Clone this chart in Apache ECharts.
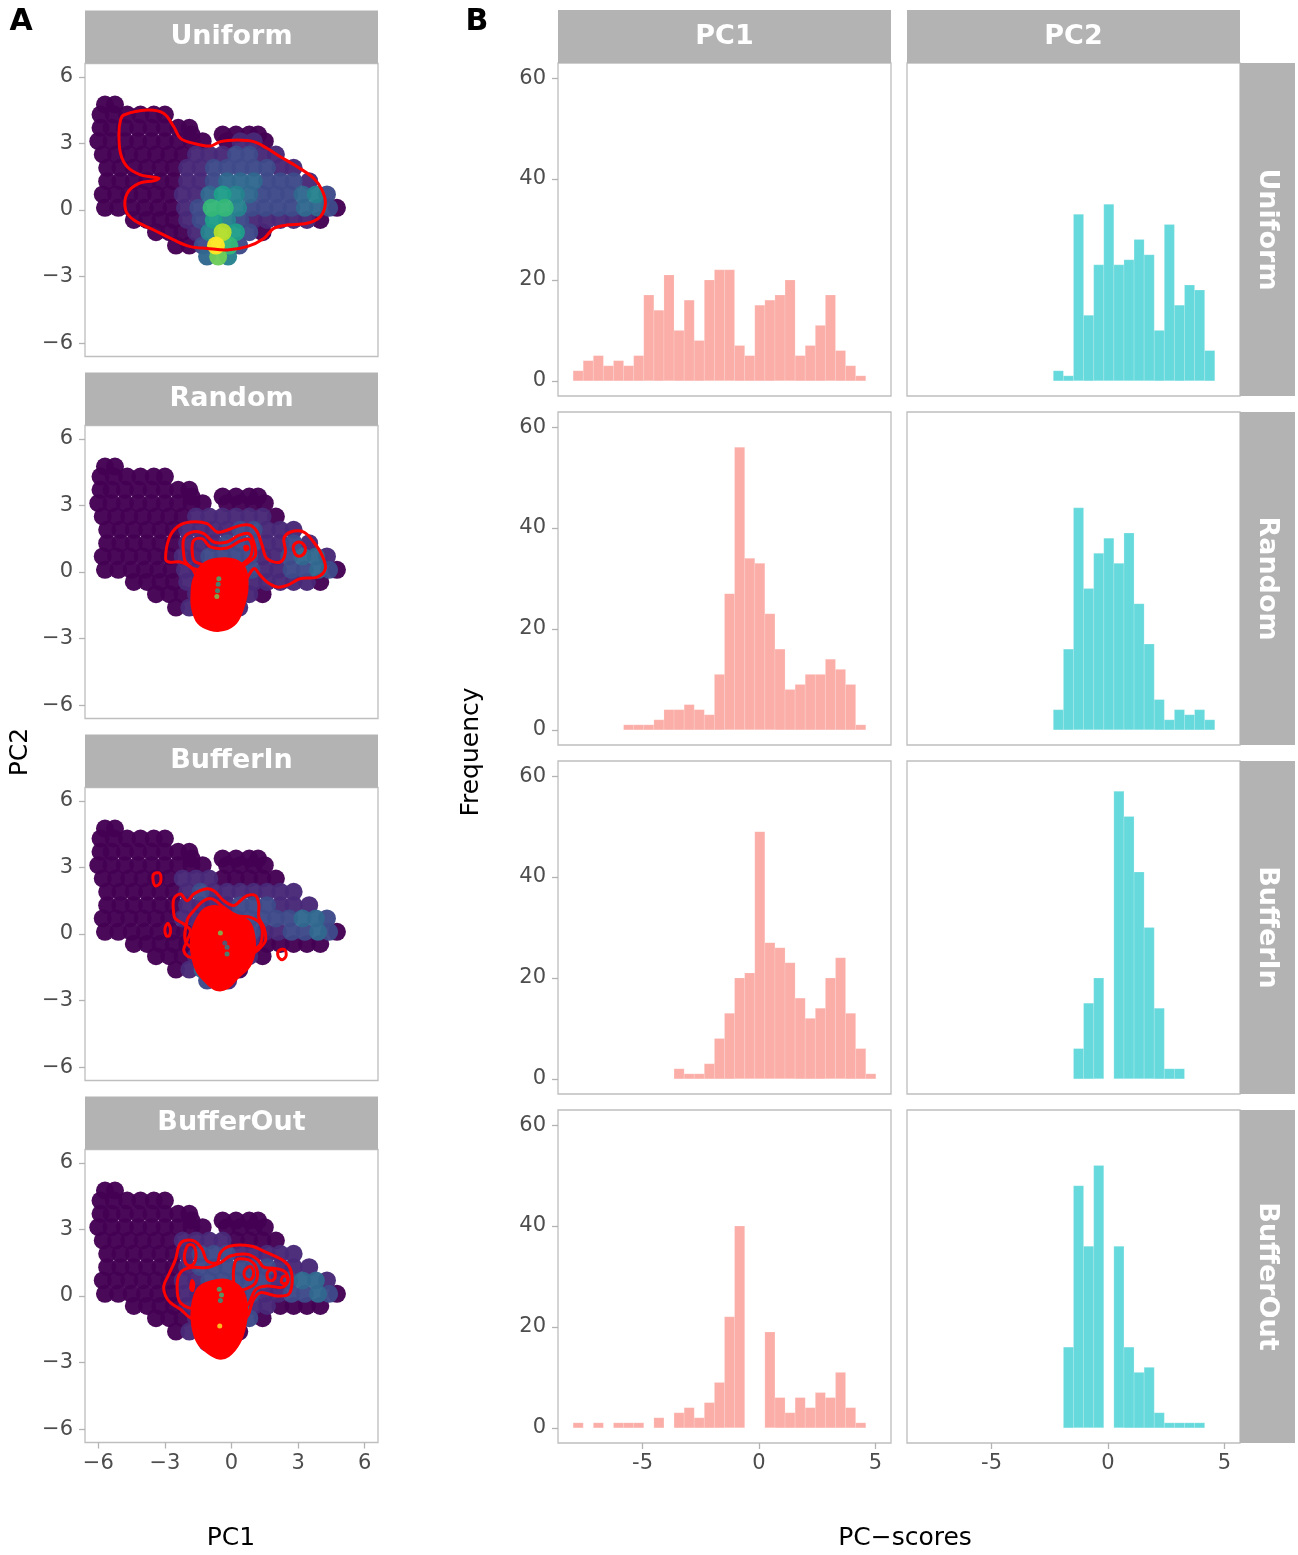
<!DOCTYPE html>
<html>
<head>
<meta charset="utf-8">
<script src="https://cdn.jsdelivr.net/npm/echarts@6/dist/echarts.min.js"></script>
<style>
  html, body { margin: 0; padding: 0; background: #fff; }
  #chart { width: 1298px; height: 1555px; }
</style>
</head>
<body>
<div id="chart"></div>
<script>
// ---------- histogram data (30 bins shared by all facets) ----------
const binEdges = [-7.98, -7.547, -7.113, -6.68, -6.247, -5.813, -5.38, -4.947, -4.513, -4.08,
  -3.647, -3.213, -2.78, -2.347, -1.913, -1.48, -1.047, -0.613, -0.18, 0.253,
  0.687, 1.12, 1.553, 1.987, 2.42, 2.853, 3.287, 3.72, 4.153, 4.587, 5.02];

const designs = ['Uniform', 'Random', 'BufferIn', 'BufferOut'];
const pcs = ['PC1', 'PC2'];

// counts per bin; null = bar above 60, dropped by the y limit
const pc1Uniform = [2, 4, 5, 3, 4, 3, 5, 17, 14, 21, 10, 16, 8, 20, 22, 22, 7, 5, 15, 16, 17, 20, 5, 7, 11, 17, 6, 3, 1, 0];
const pc2Uniform = [0, 0, 0, 0, 0, 0, 0, 0, 0, 0, 0, 0, 0, 2, 1, 33, 13, 23, 35, 23, 24, 28, 25, 10, 31, 15, 19, 18, 6, 0];
const pc1Random = [0, 0, 0, 0, 0, 1, 1, 1, 2, 4, 4, 5, 4, 3, 11, 27, 56, 34, 33, 23, 16, 8, 9, 11, 11, 14, 12, 9, 1, 0];
const pc2Random = [0, 0, 0, 0, 0, 0, 0, 0, 0, 0, 0, 0, 0, 4, 16, 44, 28, 35, 38, 33, 39, 25, 17, 6, 2, 4, 3, 4, 2, 0];
const pc1BufferIn = [0, 0, 0, 0, 0, 0, 0, 0, 0, 0, 2, 1, 1, 3, 8, 13, 20, 21, 49, 27, 26, 23, 16, 12, 14, 20, 24, 13, 6, 1];
const pc2BufferIn = [0, 0, 0, 0, 0, 0, 0, 0, 0, 0, 0, 0, 0, 0, 0, 6, 15, 20, null, 57, 52, 41, 30, 14, 2, 2, 0, 0, 0, 0];
const pc1BufferOut = [1, 0, 1, 0, 1, 1, 1, 0, 2, 0, 3, 4, 2, 5, 9, 22, 40, null, null, 19, 6, 3, 6, 4, 7, 6, 11, 4, 1, 0];
const pc2BufferOut = [0, 0, 0, 0, 0, 0, 0, 0, 0, 0, 0, 0, 0, 0, 16, 48, 36, 52, null, 36, 16, 11, 12, 3, 1, 1, 1, 1, 0, 0];

const histTicksX = [-5, 0, 5];
const histTicksY = [0, 20, 40, 60];
const pcaTicks = [-6, -3, 0, 3, 6];

// ---------- PCA cloud (panel A): rows of [PC2, [PC1 ...]] ----------
const cloudRows = [
  [4.75, [-5.7, -5.25]],
  [4.3, [-5.9, -5.3, -4.7, -4.1, -3.5, -3.0]],
  [3.7, [-5.9, -5.4, -4.8, -4.2, -3.6, -3.0, -2.4, -1.9]],
  [3.4, [-1.8, -0.4, 0.2, 0.8, 1.2]],
  [3.1, [-6.0, -5.4, -4.8, -4.2, -3.6, -3.0, -2.4, -1.8, -1.3, -0.2, 0.4, 1.0, 1.5]],
  [2.5, [-5.8, -5.2, -4.6, -4.0, -3.4, -2.8, -2.2, -1.6, -1.0, -0.4, 0.2, 0.8, 1.4, 2.0]],
  [1.9, [-5.6, -5.0, -4.4, -3.8, -3.2, -2.6, -2.0, -1.4, -0.8, -0.2, 0.4, 1.0, 1.6, 2.2, 2.8]],
  [1.3, [-5.6, -5.0, -4.4, -3.8, -3.2, -2.6, -2.0, -1.4, -0.8, -0.2, 0.4, 1.0, 1.6, 2.2, 2.8, 3.5]],
  [0.7, [-5.8, -5.2, -4.6, -4.0, -3.4, -2.8, -2.2, -1.6, -1.0, -0.4, 0.2, 0.8, 1.4, 2.0, 2.6, 3.2, 3.8, 4.3]],
  [0.1, [-5.7, -5.1, -4.5, -3.9, -3.3, -2.7, -2.1, -1.5, -0.9, -0.3, 0.3, 0.9, 1.5, 2.1, 2.7, 3.3, 3.9, 4.4, 4.75]],
  [-0.45, [-4.4, -3.8, -3.2, -2.6, -2.0, -1.4, -0.8, -0.2, 0.4, 1.0, 1.6, 2.2, 2.8, 3.4, 4.0]],
  [-1.0, [-3.4, -2.8, -2.2, -1.6, -1.0, -0.4, 0.2, 0.8, 1.4]],
  [-1.6, [-2.5, -1.9, -1.3, -0.7, -0.1, 0.35]],
  [-2.1, [-1.1, -0.6, -0.15]]
];

// density level (0-9) of each cloud point, one string per row
const densityUniform = ['00', '000000', '00000000', '00000', '0000000000110', '00000001112211',
  '000000112222211', '0000001123332221', '000000113543222342', '0000001266422223320',
  '000012542111110', '000148520', '002962', '374'];
const densityRandom = ['00', '000000', '00000000', '00000', '0000000000000', '00000001111110',
  '000000111122111', '0000001112221121', '000000112222112331', '0000001123321122320',
  '000011232111110', '000123210', '012221', '121'];
const densityBufferIn = ['00', '000000', '00000000', '00000', '0000000000000', '00000011100000',
  '000000121111111', '0000001111222111', '000000111222222332', '0000000112221122320',
  '000001122100000', '000122210', '013210', '221'];
const densityBufferOut = ['00', '000000', '00000000', '00000', '0000000000000', '00000011110000',
  '000000122211111', '0000001222222111', '000000112222212331', '0000001122221122320',
  '000011223110000', '000122320', '012210', '121'];

// red density contours of the sampled points; fill = solid (dense nested lines)
const contoursUniform = [
  { fill: false, pts: [[-4.85, 4.28], [-3.8, 4.5], [-3.05, 4.35], [-2.6, 3.75], [-2.3, 3.23], [-1.7, 3.0], [-0.95, 2.88], [-0.5, 3.08], [0.26, 3.15], [1.0, 3.08], [1.6, 2.78], [2.2, 2.4], [2.96, 1.95], [3.7, 1.43], [4.08, 0.9], [4.23, 0.3], [4.0, -0.3], [3.4, -0.6], [2.5, -0.68], [1.9, -0.83], [1.46, -1.28], [0.7, -1.65], [-0.2, -1.8], [-1.1, -1.73], [-1.85, -1.65], [-2.6, -1.35], [-3.5, -0.9], [-4.4, -0.45], [-4.77, 0], [-4.7, 0.75], [-4.17, 1.2], [-3.5, 1.32], [-3.27, 1.43], [-3.65, 1.5], [-4.1, 1.58], [-4.7, 1.95], [-5.0, 2.55], [-5.07, 3.45], [-5.0, 4.05]] }
];
const contoursRandom = [
  { fill: false, pts: [[-2.97, 0.6], [-2.82, 1.5], [-2.45, 2.03], [-1.85, 2.25], [-1.1, 2.18], [-0.65, 1.8], [-0.2, 1.88], [0.4, 2.1], [0.86, 2.1], [1.16, 1.8], [1.38, 1.2], [1.6, 0.6], [2.2, 0.45], [2.43, 0.9], [2.36, 1.5], [2.66, 1.8], [3.26, 1.8], [3.7, 1.35], [4.08, 0.75], [4.23, 0.15], [3.86, -0.23], [3.1, -0.3], [2.5, -0.6], [2.06, -0.68], [1.6, -0.45], [1.3, -0.15], [1.0, 0.15], [0.4, -0.75], [-0.8, -1.65], [-1.77, 0.15], [-2.3, 0.45], [-2.82, 0.45]] },
  { fill: false, pts: [[-2.15, 0.75], [-2.15, 1.5], [-1.77, 1.8], [-1.25, 1.73], [-0.8, 1.35], [-0.2, 1.35], [0.33, 1.65], [0.78, 1.73], [1.0, 1.35], [1.08, 0.75], [0.78, 0.45], [0, 0], [-1.7, 0.15], [-2.07, 0.45]] },
  { fill: false, pts: [[-1.77, 0.9], [-1.7, 1.43], [-1.32, 1.5], [-0.95, 1.13], [-0.2, 1.08], [0.4, 1.4], [0.78, 1.47], [0.93, 1.05], [0.78, 0.6], [0, 0.15], [-1.62, 0.45]] },
  { fill: true, pts: [[0.58, 1.15], [0.72, 1.17], [0.76, 1.02], [0.62, 0.98]] },
  { fill: false, pts: [[2.8, 1.2], [3.03, 1.35], [3.26, 1.23], [3.33, 0.98], [3.18, 0.75], [2.93, 0.75], [2.8, 0.98]] },
  { fill: true, pts: [[-1.7, -0.3], [-1.3, 0.35], [-0.65, 0.6], [0.15, 0.55], [0.62, 0.15], [0.72, -0.75], [0.52, -1.65], [0.2, -2.3], [-0.35, -2.62], [-0.97, -2.6], [-1.52, -2.28], [-1.77, -1.65], [-1.8, -0.9]] }
];
const contoursBufferIn = [
  { fill: false, pts: [[-3.5, 2.7], [-3.23, 2.73], [-3.2, 2.33], [-3.41, 2.16], [-3.53, 2.4]] },
  { fill: false, pts: [[-2.87, 0.48], [-2.75, 0.23], [-2.8, -0.08], [-2.94, -0.08], [-3.0, 0.23]] },
  { fill: false, pts: [[2.13, -0.75], [2.39, -0.7], [2.46, -0.98], [2.28, -1.16], [2.1, -1.0]] },
  { fill: false, pts: [[-2.6, 0.9], [-2.6, 1.58], [-2.3, 1.8], [-2.0, 1.5], [-1.7, 1.8], [-1.17, 2.03], [-0.8, 1.95], [-0.35, 1.5], [0.1, 1.28], [0.4, 1.5], [0.7, 1.73], [1.08, 1.73], [1.23, 1.35], [1.23, 0.75], [1.46, 0.3], [1.53, -0.3], [1.16, -0.75], [0.86, -0.9], [-1.85, -1.05], [-2.15, -0.75], [-2.0, -0.3], [-1.85, 0.15], [-2.15, 0.45], [-2.52, 0.68]] },
  { fill: false, pts: [[-2.0, 0.6], [-1.7, 1.05], [-1.25, 1.5], [-0.87, 1.58], [-0.35, 1.2], [0.26, 0.83], [0.86, 0.75], [1.3, 0.45], [1.38, -0.15], [1.16, -0.6], [-0.5, -1.05], [-2.0, -0.45]] },
  { fill: true, pts: [[-1.8, 0], [-1.65, 0.5], [-1.25, 1.1], [-0.65, 1.25], [0.1, 0.88], [0.72, 0.62], [0.98, 0.15], [1.05, -0.75], [0.82, -1.45], [0.28, -1.98], [-0.2, -2.45], [-0.67, -2.52], [-1.13, -2.2], [-1.58, -1.65], [-1.82, -0.75]] }
];
const contoursBufferOut = [
  { fill: false, pts: [[-2.97, 0], [-3.05, 0.45], [-2.82, 0.98], [-2.52, 1.65], [-2.37, 2.25], [-2.15, 2.48], [-1.7, 2.48], [-1.32, 2.1], [-1.1, 1.58], [-0.65, 1.5], [-0.5, 1.95], [-0.05, 2.25], [0.86, 2.25], [1.6, 1.95], [2.36, 1.58], [2.66, 1.2], [2.73, 0.6], [2.58, 0.08], [2.06, 0], [1.3, 0.15], [1.0, -0.15], [0.56, -1.05], [-1.7, -1.05], [-2.3, -0.6], [-2.75, -0.3]] },
  { fill: false, pts: [[-2.3, -0.3], [-2.45, 0.45], [-2.3, 1.05], [-1.85, 1.28], [-1.1, 1.28], [-0.5, 1.5], [-0.05, 1.8], [0.7, 1.88], [1.16, 1.65], [1.45, 1.3], [1.9, 1.25], [2.4, 1.1], [2.55, 0.7], [2.3, 0.4], [1.6, 0.45], [1.1, 0.3], [0.6, -0.5], [-1.5, -0.6]] },
  { fill: false, pts: [[0.18, 1.58], [0.7, 1.65], [1.08, 1.35], [1.16, 0.83], [0.93, 0.45], [0.2, 0.3]] },
  { fill: false, pts: [[0.63, 1.2], [0.86, 1.32], [1.0, 1.05], [0.88, 0.75], [0.66, 0.78], [0.56, 0.98]] },
  { fill: false, pts: [[1.6, 0.95], [1.7, 1.15], [1.9, 1.15], [1.98, 0.93], [1.88, 0.72], [1.68, 0.72]] },
  { fill: false, pts: [[2.25, 0.75], [2.35, 0.9], [2.5, 0.85], [2.53, 0.65], [2.4, 0.55], [2.27, 0.6]] },
  { fill: false, pts: [[-1.83, 0.5], [-1.77, 0.7], [-1.7, 0.5], [-1.75, 0.25], [-1.82, 0.3]] },
  { fill: false, pts: [[-2.1, 1.95], [-1.95, 2.3], [-1.7, 2.25], [-1.6, 1.8], [-1.75, 1.4], [-2.0, 1.4], [-2.12, 1.65]] },
  { fill: true, pts: [[-1.78, -0.45], [-1.52, 0.33], [-0.95, 0.65], [-0.2, 0.72], [0.45, 0.32], [0.7, -0.45], [0.62, -1.35], [0.36, -2.12], [-0.12, -2.7], [-0.57, -2.82], [-1.05, -2.58], [-1.52, -2.12], [-1.77, -1.35]] }
];

// density colours showing through the solid contour cores: [PC1, PC2, level]
const specksRandom = [[-0.57, -0.3, 6], [-0.6, -0.55, 5], [-0.63, -0.85, 5], [-0.66, -1.1, 7]];
const specksBufferIn = [[-0.5, 0.05, 7], [-0.3, -0.4, 3], [-0.2, -0.6, 4], [-0.2, -0.9, 5]];
const specksBufferOut = [[-0.55, 0.3, 6], [-0.45, 0.05, 6], [-0.5, -0.2, 5], [-0.53, -1.35, 9]];

// ---------- styling ----------
const FONT = 'DejaVu Sans';
const viridis = ['#440154', '#482878', '#3E4A89', '#31688E', '#26828E', '#1F9E89', '#35B779', '#6DCD59', '#B4DE2C', '#FDE725'];
const stripGrey = '#B3B3B3';
const borderGrey = '#BEBEBE';
const tickGrey = '#B3B3B3';
const labelGrey = '#4D4D4D';
const pc1Fill = 'rgba(248,118,109,0.6)';
const pc2Fill = 'rgba(0,191,196,0.6)';

const histCounts = [
  [pc1Uniform, pc2Uniform],
  [pc1Random, pc2Random],
  [pc1BufferIn, pc2BufferIn],
  [pc1BufferOut, pc2BufferOut]
];
const densities = [densityUniform, densityRandom, densityBufferIn, densityBufferOut];
const contours = [contoursUniform, contoursRandom, contoursBufferIn, contoursBufferOut];
const specks = [[], specksRandom, specksBufferIn, specksBufferOut];

// layout
const aLeft = 85, aWidth = 293, aHeight = 293, aTops = [63.5, 425.5, 787.5, 1149.5];
const bLefts = [558, 907], bWidth = 333, bHeight = 333, bTops = [63, 412, 761, 1110];
const stripH = 53, sideStripW = 55;

const minus = v => (v < 0 ? '\u2212' + Math.abs(v) : String(v));

const grid = [], xAxis = [], yAxis = [], series = [], graphic = [];

function axisCommon(show, ticks, min, max, fmt, margin) {
  return {
    type: 'value', min, max,
    axisLine: { show: false, onZero: false },
    splitLine: { show: false },
    axisTick: { show, customValues: ticks, length: 6, lineStyle: { color: tickGrey, width: 1.3 } },
    axisLabel: { show, customValues: ticks, formatter: fmt, color: labelGrey, fontSize: 21, fontFamily: FONT, margin }
  };
}

function addStrip(x, y, w, h, text, rotation) {
  graphic.push({ type: 'rect', shape: { x, y, width: w, height: h }, style: { fill: stripGrey }, silent: true });
  graphic.push({
    type: 'text', x: x + w / 2, y: y + h / 2, rotation: rotation || 0,
    style: { text, fill: '#fff', font: 'bold 27px "' + FONT + '"', align: 'center', verticalAlign: 'middle' },
    silent: true
  });
}

function addText(text, x, y, size, rotation, bold) {
  graphic.push({
    type: 'text', x, y, rotation: rotation || 0,
    style: { text, fill: '#000', font: (bold ? 'bold ' : '') + size + 'px "' + FONT + '"', align: 'center', verticalAlign: 'middle' },
    silent: true
  });
}

// ----- panel A: PCA scatter with contours -----
designs.forEach((name, r) => {
  const gi = grid.length;
  grid.push({ left: aLeft, top: aTops[r], width: aWidth, height: aHeight, show: true,
    backgroundColor: '#fff', borderColor: borderGrey, borderWidth: 1.3 });
  xAxis.push(Object.assign({ gridIndex: gi, position: 'bottom' }, axisCommon(r === 3, pcaTicks, -6.6, 6.6, minus, 11)));
  yAxis.push(Object.assign({ gridIndex: gi, position: 'left' }, axisCommon(true, pcaTicks, -6.6, 6.6, minus, 12)));

  const pts = [];
  cloudRows.forEach((row, i) => {
    row[1].forEach((x, k) => pts.push([x, row[0], +(densities[r][i].charAt(k) || 0)]));
  });
  pts.sort((a, b) => a[2] - b[2]);
  series.push({
    type: 'scatter', xAxisIndex: gi, yAxisIndex: gi, data: pts, symbolSize: 18, silent: true, z: 2,
    itemStyle: { color: p => viridis[p.value[2]], opacity: 0.97 }
  });

  const cs = contours[r];
  series.push({
    type: 'custom', xAxisIndex: gi, yAxisIndex: gi, silent: true, z: 5,
    data: cs.map(() => [0, 0]),
    renderItem: (params, api) => {
      const c = cs[params.dataIndex];
      const points = c.pts.map(p => api.coord(p));
      return {
        type: 'polygon',
        shape: { points, smooth: 0.35 },
        style: c.fill
          ? { fill: '#FF0000', stroke: '#FF0000', lineWidth: 2 }
          : { fill: 'none', stroke: '#FF0000', lineWidth: 3 }
      };
    }
  });

  if (specks[r].length) {
    series.push({
      type: 'scatter', xAxisIndex: gi, yAxisIndex: gi, data: specks[r], symbolSize: 5, silent: true, z: 6,
      itemStyle: { color: p => viridis[p.value[2]] }
    });
  }

  addStrip(aLeft, aTops[r] - stripH, aWidth, stripH, name);
});

// ----- panel B: histograms of PC scores -----
designs.forEach((name, r) => {
  pcs.forEach((pc, c) => {
    const gi = grid.length;
    grid.push({ left: bLefts[c], top: bTops[r], width: bWidth, height: bHeight, show: true,
      backgroundColor: '#fff', borderColor: borderGrey, borderWidth: 1.3 });
    xAxis.push(Object.assign({ gridIndex: gi, position: 'bottom' }, axisCommon(r === 3, histTicksX, -8.63, 5.67, v => String(v), 10)));
    yAxis.push(Object.assign({ gridIndex: gi, position: 'left' }, axisCommon(c === 0, histTicksY, -3, 63, v => String(v), 12)));

    const data = [];
    histCounts[r][c].forEach((n, i) => { if (n) data.push([binEdges[i], binEdges[i + 1], n]); });
    const fill = c === 0 ? pc1Fill : pc2Fill;
    series.push({
      type: 'custom', xAxisIndex: gi, yAxisIndex: gi, silent: true,
      encode: { x: [0, 1], y: 2 },
      data,
      renderItem: (params, api) => {
        const a = api.coord([api.value(0), api.value(2)]);
        const b = api.coord([api.value(1), 0]);
        return {
          type: 'rect',
          shape: { x: a[0], y: a[1], width: b[0] - a[0], height: b[1] - a[1] },
          style: { fill, stroke: 'rgba(255,255,255,0.3)', lineWidth: 0.6 }
        };
      }
    });

    if (r === 0) addStrip(bLefts[c], bTops[0] - stripH, bWidth, stripH, pc);
  });
  addStrip(bLefts[1] + bWidth, bTops[r], sideStripW, bHeight, name, -Math.PI / 2);
});

// titles and panel letters
addText('PC1', 231, 1538, 25);
addText('PC2', 20, 752, 25, Math.PI / 2);
addText('Frequency', 471, 752, 25, Math.PI / 2);
addText('PC\u2212scores', 905, 1538, 25);
addText('A', 21, 22, 30, 0, true);
addText('B', 477, 22, 30, 0, true);

const chart = echarts.init(document.getElementById('chart'), null, { renderer: 'canvas' });
chart.setOption({
  backgroundColor: '#fff',
  animation: false,
  textStyle: { fontFamily: FONT },
  grid, xAxis, yAxis, series, graphic
});
</script>
</body>
</html>
